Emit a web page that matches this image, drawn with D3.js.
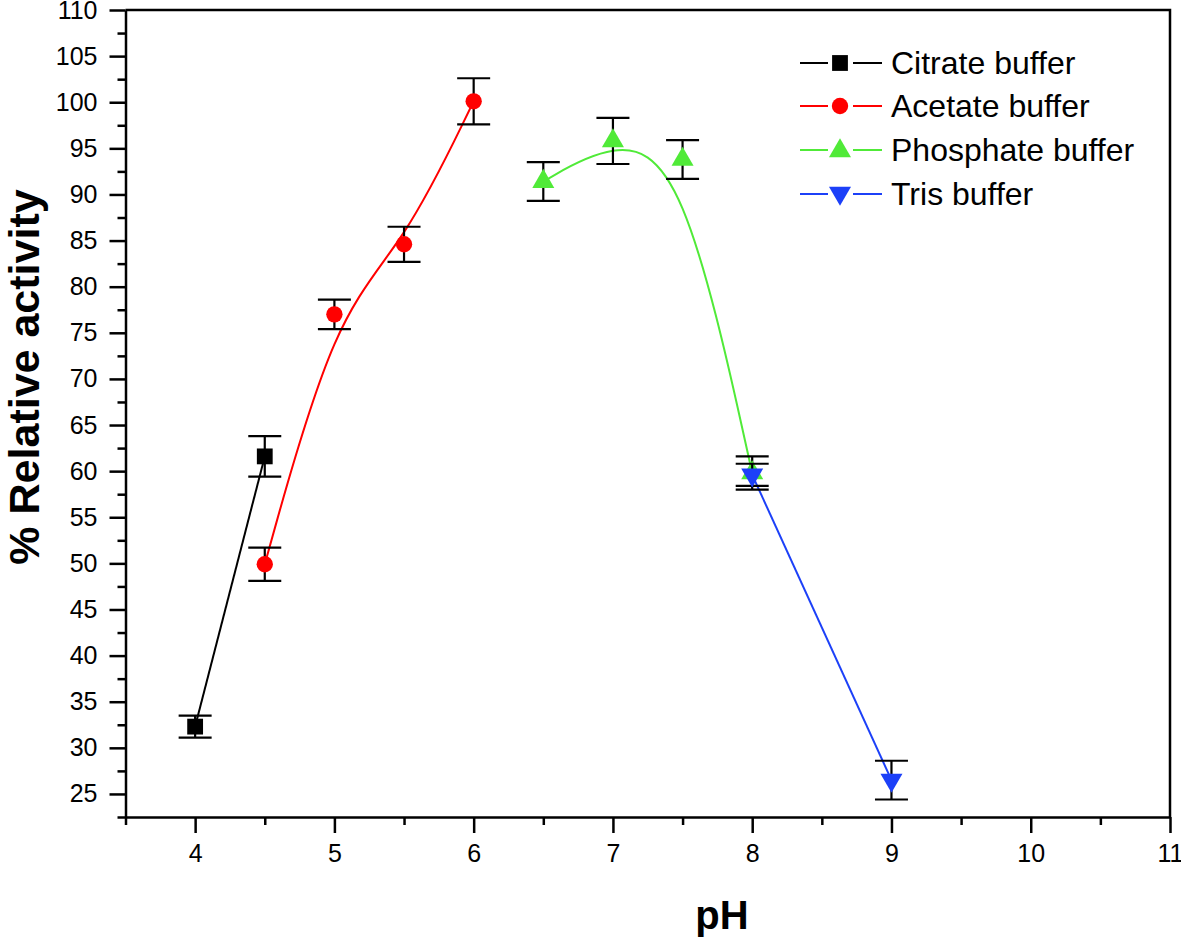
<!DOCTYPE html>
<html>
<head>
<meta charset="utf-8">
<script src="https://cdn.jsdelivr.net/npm/d3@7"></script>
<style>
  body { margin: 0; background: #fff; }
  svg text { font-family: "Liberation Sans", Arial, sans-serif; fill: #000; }
</style>
</head>
<body>
<div id="chart"></div>
<script>
// pH vs % relative activity, one series per buffer
var citratePH = [4, 4.5];
var citrateAct = [32.3, 61.6];
var citrateErr = [1.2, 2.2];

var acetatePH = [4.5, 5, 5.5, 6];
var acetateAct = [49.9, 77.0, 84.6, 100.1];
var acetateErr = [1.8, 1.6, 1.9, 2.5];

var phosphatePH = [6.5, 7, 7.5, 8];
var phosphateAct = [91.4, 95.8, 93.8, 59.8];
var phosphateErr = [2.1, 2.5, 2.1, 1.8];

var trisPH = [8, 9];
var trisAct = [59.6, 26.5];
var trisErr = [1.2, 2.1];

var xTicks = [4, 5, 6, 7, 8, 9, 10, 11];
var xMinor = [3.5, 4.5, 5.5, 6.5, 7.5, 8.5, 9.5, 10.5];
var yTicks = [25, 30, 35, 40, 45, 50, 55, 60, 65, 70, 75, 80, 85, 90, 95, 100, 105, 110];
var yMinor = [22.5, 27.5, 32.5, 37.5, 42.5, 47.5, 52.5, 57.5, 62.5, 67.5, 72.5, 77.5, 82.5, 87.5, 92.5, 97.5, 102.5, 107.5];

var series = [
    { name: "Citrate buffer", x: citratePH, y: citrateAct, e: citrateErr, color: "#000000", symbol: d3.symbolSquare, size: 250, rot: 0, curve: d3.curveLinear },
    { name: "Acetate buffer", x: acetatePH, y: acetateAct, e: acetateErr, color: "#ff0000", symbol: d3.symbolCircle, size: 210, rot: 0, curve: d3.curveBasis },
    { name: "Phosphate buffer", x: phosphatePH, y: phosphateAct, e: phosphateErr, color: "#50ea38", symbol: d3.symbolTriangle, size: 210, rot: 0, curve: d3.curveBasis },
    { name: "Tris buffer", x: trisPH, y: trisAct, e: trisErr, color: "#1c40f8", symbol: d3.symbolTriangle, size: 210, rot: 180, curve: d3.curveLinear }
];

var width = 1181, height = 938;
var svg = d3.select("#chart").append("svg").attr("width", width).attr("height", height);

var x = d3.scaleLinear().domain([3.5, 11]).range([125.5, 1170]);
var y = d3.scaleLinear().domain([22.5, 110]).range([817, 10]);

// frame top + right
svg.append("path")
    .attr("d", "M" + x(3.5) + "," + y(110) + "H" + x(11) + "V" + y(22.5))
    .attr("fill", "none").attr("stroke", "#000").attr("stroke-width", 2.5);

// axes
var xAxis = svg.append("g")
    .attr("transform", "translate(0," + y(22.5) + ")")
    .call(d3.axisBottom(x).tickValues(xTicks).tickSize(16).tickSizeOuter(0).tickPadding(11));
svg.append("g")
    .attr("transform", "translate(0," + y(22.5) + ")")
    .call(d3.axisBottom(x).tickValues(xMinor).tickSize(8).tickFormat("").tickSizeOuter(0))
    .select(".domain").remove();

var yAxis = svg.append("g")
    .attr("transform", "translate(" + x(3.5) + ",0)")
    .call(d3.axisLeft(y).tickValues(yTicks).tickSize(16).tickSizeOuter(0).tickPadding(12));
svg.append("g")
    .attr("transform", "translate(" + x(3.5) + ",0)")
    .call(d3.axisLeft(y).tickValues(yMinor).tickSize(8).tickFormat("").tickSizeOuter(0))
    .select(".domain").remove();

svg.selectAll(".domain").attr("stroke-width", 2.5);
svg.selectAll(".tick line").attr("stroke-width", 2.5);
xAxis.selectAll("text").style("font-size", "25px").style("font-family", "Liberation Sans, Arial, sans-serif");
yAxis.selectAll("text").style("font-size", "25px").style("font-family", "Liberation Sans, Arial, sans-serif");

// axis titles
svg.append("text")
    .attr("transform", "translate(39," + 377 + ") rotate(-90)")
    .attr("text-anchor", "middle")
    .style("font-size", "43px").style("font-weight", "bold")
    .text("% Relative activity");

svg.append("text")
    .attr("x", 722).attr("y", 929)
    .attr("text-anchor", "middle")
    .style("font-size", "40px").style("font-weight", "bold")
    .text("pH");

// lines
series.forEach(function (s) {
    var pts = s.x.map(function (v, i) { return [v, s.y[i]]; });
    var line = d3.line()
        .x(function (d) { return x(d[0]); })
        .y(function (d) { return y(d[1]); })
        .curve(s.curve);
    svg.append("path")
        .datum(pts)
        .attr("fill", "none")
        .attr("stroke", s.color)
        .attr("stroke-width", 2)
        .attr("d", line);
});

// error bars + markers
series.forEach(function (s) {
    var g = svg.append("g");
    s.x.forEach(function (v, i) {
        var cx = x(v), top = y(s.y[i] + s.e[i]), bot = y(s.y[i] - s.e[i]);
        g.append("line").attr("x1", cx).attr("x2", cx).attr("y1", top).attr("y2", bot)
            .attr("stroke", "#000").attr("stroke-width", 2.2);
        g.append("line").attr("x1", cx - 16.5).attr("x2", cx + 16.5).attr("y1", top).attr("y2", top)
            .attr("stroke", "#000").attr("stroke-width", 2.2);
        g.append("line").attr("x1", cx - 16.5).attr("x2", cx + 16.5).attr("y1", bot).attr("y2", bot)
            .attr("stroke", "#000").attr("stroke-width", 2.2);
    });
    g.selectAll("path.mark")
        .data(s.x)
        .enter().append("path")
        .attr("class", "mark")
        .attr("d", d3.symbol().type(s.symbol).size(s.size))
        .attr("fill", s.color)
        .attr("transform", function (v, i) {
            return "translate(" + x(v) + "," + y(s.y[i]) + ") rotate(" + s.rot + ")";
        });
});

// legend
var legendY = [63, 106, 150, 194];
var legend = svg.append("g");
series.forEach(function (s, i) {
    var ly = legendY[i];
    legend.append("line").attr("x1", 800).attr("x2", 828).attr("y1", ly).attr("y2", ly)
        .attr("stroke", s.color).attr("stroke-width", 2);
    legend.append("line").attr("x1", 853).attr("x2", 882).attr("y1", ly).attr("y2", ly)
        .attr("stroke", s.color).attr("stroke-width", 2);
    legend.append("path")
        .attr("d", d3.symbol().type(s.symbol).size(s.size))
        .attr("fill", s.color)
        .attr("transform", "translate(840," + (ly + (s.symbol === d3.symbolTriangle ? (s.rot ? -1 : 1) : 0)) + ") rotate(" + s.rot + ")");
    legend.append("text")
        .attr("x", 891).attr("y", ly + 11)
        .style("font-size", "32px")
        .text(s.name);
});
</script>
</body>
</html>
